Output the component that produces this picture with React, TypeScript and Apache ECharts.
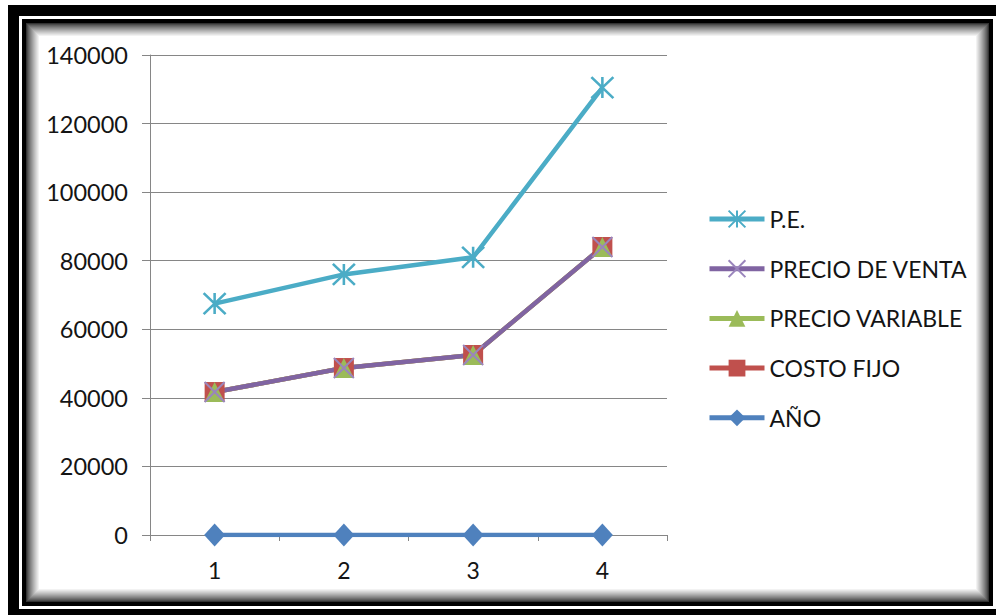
import React, { useEffect, useRef } from "react";
import * as echarts from "echarts";

// Year index on the category axis
const categories = ["1", "2", "3", "4"];

// Series values per year
const peValues = [67500, 76000, 81000, 130500];
const precioVentaValues = [41700, 48700, 52500, 84000];
const precioVariableValues = [41700, 48700, 52500, 84000];
const costoFijoValues = [41700, 48700, 52500, 84000];
const anoValues = [0, 0, 0, 0];

const seriesNames = ["P.E.", "PRECIO DE VENTA", "PRECIO VARIABLE", "COSTO FIJO", "AÑO"];

const FONT = "Lato, 'Open Sans', sans-serif";
const GRAY = "#868686";
const TEXT = "#141414";

const ASTERISK = "path://M0,0L20,20M20,0L0,20M10,0L10,20";
const CROSS = "path://M0,0L20,20M20,0L0,20";

// Double black frame with a soft inner shadow
function frameGraphics() {
  const els: any[] = [
    { type: "rect", shape: { x: 8, y: 5, width: 1000, height: 620 }, style: { fill: "#000" }, silent: true },
    { type: "rect", shape: { x: 19, y: 16, width: 990, height: 593 }, style: { fill: "#fff" }, silent: true },
    { type: "rect", shape: { x: 22, y: 19, width: 971, height: 587 }, style: { fill: "#000" }, silent: true },
  ];
  const steps = 13;
  for (let i = 0; i <= steps; i++) {
    const t = i / steps;
    const v = Math.round(50 + (255 - 50) * Math.pow(t, 0.8));
    const inset = 4 + i;
    els.push({
      type: "rect",
      shape: { x: 22 + inset, y: 19 + inset, width: 971 - 2 * inset, height: 587 - 2 * inset },
      style: { fill: `rgb(${v},${v},${v})` },
      silent: true,
    });
  }
  return els;
}

export default function App() {
  const ref = useRef<HTMLDivElement>(null);

  useEffect(() => {
    if (!ref.current) return;
    const chart = echarts.init(ref.current, null, { renderer: "svg" });

    const lineSeries = (
      name: string,
      data: number[],
      color: string,
      symbol: string,
      symbolSize: number | number[],
      markerStyle: any
    ) => ({
      name,
      type: "line",
      data,
      symbol,
      symbolSize,
      showAllSymbol: true,
      lineStyle: { color, width: 4.5 },
      itemStyle: markerStyle,
      emphasis: { disabled: true },
    });

    chart.setOption({
      animation: false,
      backgroundColor: "#fff",
      graphic: { elements: frameGraphics() },
      grid: { left: 150, right: 329, top: 55, bottom: 80, containLabel: false },
      legend: {
        data: seriesNames,
        orient: "vertical",
        left: 707,
        top: 207.5,
        padding: 0,
        itemWidth: 55,
        itemHeight: 21,
        itemGap: 26.7,
        lineStyle: { width: 5 },
        textStyle: { fontFamily: FONT, fontSize: 23, lineHeight: 21, color: TEXT },
        selectedMode: false,
      },
      xAxis: {
        type: "category",
        data: categories,
        boundaryGap: true,
        axisLine: { lineStyle: { color: GRAY, width: 1 } },
        axisTick: { show: true, length: 6, inside: false, lineStyle: { color: GRAY } },
        axisLabel: { fontFamily: FONT, fontSize: 23, color: TEXT, margin: 23 },
        splitLine: { show: false },
      },
      yAxis: {
        type: "value",
        min: 0,
        max: 140000,
        interval: 20000,
        axisLine: { show: true, lineStyle: { color: GRAY, width: 1 } },
        axisTick: { show: true, length: 8, lineStyle: { color: GRAY } },
        axisLabel: {
          fontFamily: FONT,
          fontSize: 23.5,
          color: TEXT,
          margin: 22,
          formatter: (v: number) => String(v),
        },
        splitLine: { show: true, lineStyle: { color: GRAY, width: 1 } },
      },
      series: [
        lineSeries("AÑO", anoValues, "#4F81BD", "diamond", [21, 23], { color: "#4F81BD" }),
        lineSeries("COSTO FIJO", costoFijoValues, "#C0504D", "rect", 20, { color: "#C0504D" }),
        lineSeries("PRECIO VARIABLE", precioVariableValues, "#9BBB59", "triangle", 20, { color: "#9BBB59" }),
        lineSeries("PRECIO DE VENTA", precioVentaValues, "#8064A2", CROSS, 20, {
          color: "none",
          borderColor: "#9A85BC",
          borderWidth: 2,
        }),
        lineSeries("P.E.", peValues, "#4BACC6", ASTERISK, [22, 21], {
          color: "none",
          borderColor: "#4BACC6",
          borderWidth: 2.5,
        }),
      ],
    });

    return () => chart.dispose();
  }, []);

  return (
    <div
      ref={ref}
      style={{ position: "fixed", left: 0, top: 0, width: 996, height: 615 }}
    />
  );
}
